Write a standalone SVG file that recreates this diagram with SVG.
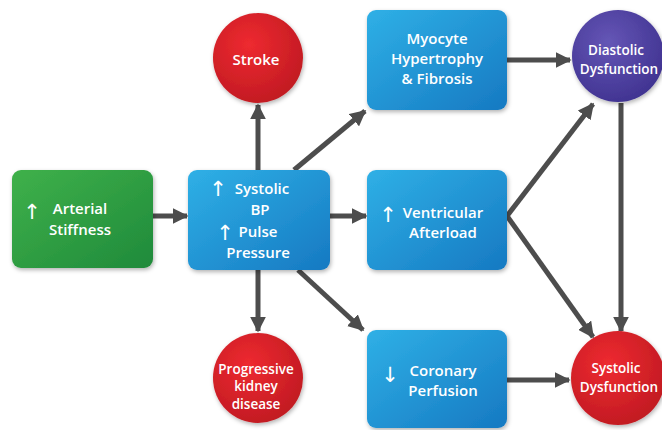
<svg xmlns="http://www.w3.org/2000/svg" width="662" height="430" viewBox="0 0 662 430">
<defs>
<linearGradient id="gBlue" x1="0" y1="0" x2="1" y2="1"><stop offset="0" stop-color="#2fb0e6"/><stop offset="1" stop-color="#1679c2"/></linearGradient>
<linearGradient id="gGreen" x1="0" y1="0" x2="1" y2="1"><stop offset="0" stop-color="#3fb14a"/><stop offset="1" stop-color="#1f8a3b"/></linearGradient>
<radialGradient id="gRed" cx="0.4" cy="0.35" r="0.7"><stop offset="0" stop-color="#ee2a30"/><stop offset="1" stop-color="#c01a22"/></radialGradient>
<radialGradient id="gPurple" cx="0.4" cy="0.35" r="0.7"><stop offset="0" stop-color="#6556b6"/><stop offset="1" stop-color="#3f3290"/></radialGradient>
<filter id="sh" x="-20%" y="-20%" width="140%" height="140%"><feDropShadow dx="1" dy="2" stdDeviation="2" flood-color="#000" flood-opacity="0.3"/></filter>
<marker id="ah" viewBox="0 0 10 10" refX="9" refY="5" markerWidth="3.2" markerHeight="3.2" orient="auto" markerUnits="strokeWidth"><path d="M0,0 L10,5 L0,10 z" fill="#4d4d4d"/></marker>
<style>
.box{filter:url(#sh)}
.t{font-family:"Open Sans","Liberation Sans",sans-serif;font-weight:600;font-size:15px;fill:#fff;text-anchor:middle}
.s{font-size:13.5px}
.ar{font-family:"DejaVu Sans",sans-serif;font-weight:400;font-size:21px;fill:#fff;text-anchor:middle}
.c{stroke:#4d4d4d;stroke-width:5;fill:none;marker-end:url(#ah)}
</style>
</defs>
<rect width="662" height="430" fill="#fff"/>
<g id="connectors">
<line class="c" x1="153" y1="216" x2="187" y2="216"/>
<line class="c" x1="258" y1="170" x2="258" y2="105"/>
<line class="c" x1="294" y1="170" x2="365" y2="111"/>
<line class="c" x1="330" y1="216" x2="366" y2="216"/>
<line class="c" x1="258" y1="270" x2="258" y2="331"/>
<line class="c" x1="298" y1="270" x2="363" y2="330"/>
<line class="c" x1="507" y1="60" x2="570" y2="60"/>
<line class="c" x1="507" y1="216" x2="593" y2="104"/>
<line class="c" x1="507" y1="216" x2="593" y2="337"/>
<line class="c" x1="621" y1="103" x2="621" y2="331"/>
<line class="c" x1="507" y1="380" x2="569" y2="380"/>
</g>
<g id="arterial">
<rect class="box" x="12" y="170" width="141" height="98" rx="9" fill="url(#gGreen)"/>
<text class="ar" x="32" y="219">↑</text>
<text class="t" x="80" y="214">Arterial</text>
<text class="t" x="80" y="235">Stiffness</text>
</g>
<g id="systolicbp">
<rect class="box" x="188" y="170" width="142" height="100" rx="9" fill="url(#gBlue)"/>
<text class="ar" x="218" y="196">↑</text>
<text class="t" x="262" y="194">Systolic</text>
<text class="t" x="260" y="215">BP</text>
<text class="ar" x="225" y="240">↑</text>
<text class="t" x="258" y="237">Pulse</text>
<text class="t" x="258" y="258">Pressure</text>
</g>
<g id="stroke">
<circle class="box" cx="258" cy="58" r="45" fill="url(#gRed)"/>
<text class="t" x="256" y="65">Stroke</text>
</g>
<g id="myocyte">
<rect class="box" x="367" y="10" width="140" height="100" rx="9" fill="url(#gBlue)"/>
<text class="t" x="437" y="44">Myocyte</text>
<text class="t" x="437" y="64">Hypertrophy</text>
<text class="t" x="437" y="84">&amp; Fibrosis</text>
</g>
<g id="diastolic">
<circle class="box" cx="618" cy="56" r="46" fill="url(#gPurple)"/>
<text class="t s" x="616" y="55">Diastolic</text>
<text class="t s" x="619" y="74">Dysfunction</text>
</g>
<g id="ventricular">
<rect class="box" x="367" y="170" width="140" height="100" rx="9" fill="url(#gBlue)"/>
<text class="ar" x="388" y="222">↑</text>
<text class="t" x="443" y="218">Ventricular</text>
<text class="t" x="443" y="238">Afterload</text>
</g>
<g id="kidney">
<circle class="box" cx="258" cy="378" r="45" fill="url(#gRed)"/>
<text class="t s" x="256" y="374">Progressive</text>
<text class="t s" x="256" y="391">kidney</text>
<text class="t s" x="256" y="409">disease</text>
</g>
<g id="coronary">
<rect class="box" x="367" y="330" width="140" height="98" rx="9" fill="url(#gBlue)"/>
<text class="ar" x="390" y="382">↓</text>
<text class="t" x="443" y="376">Coronary</text>
<text class="t" x="443" y="396">Perfusion</text>
</g>
<g id="systolicdys">
<circle class="box" cx="618" cy="378" r="47" fill="url(#gRed)"/>
<text class="t s" x="616" y="373">Systolic</text>
<text class="t s" x="619" y="392">Dysfunction</text>
</g>
</svg>
